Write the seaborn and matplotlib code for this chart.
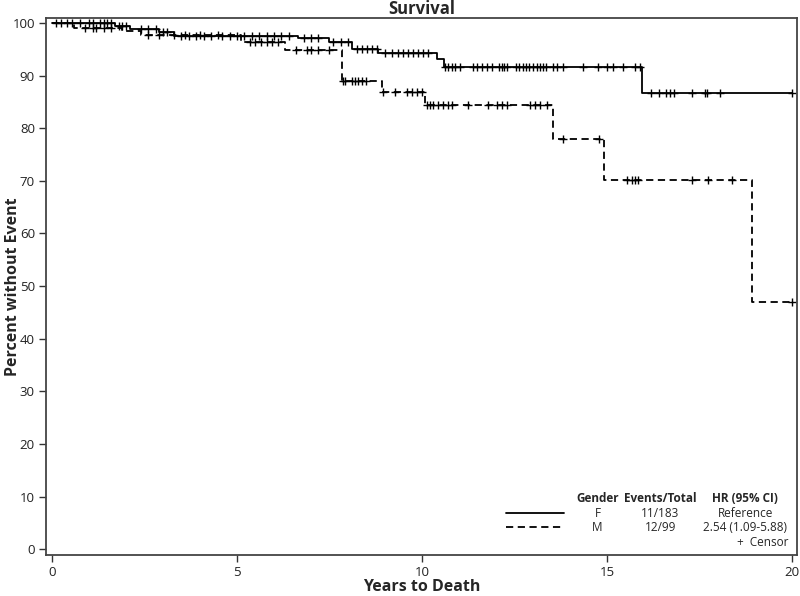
import matplotlib
matplotlib.use("Agg")
import matplotlib.pyplot as plt
import numpy as np
import pandas as pd
import seaborn as sns

# Kaplan-Meier steps (years, percent without event)
f_event_times = [1.7, 2.1, 2.9, 3.3, 6.65, 7.5, 8.1, 8.8, 10.4, 10.6, 15.95]
f_event_surv = [99.4, 98.8, 98.2, 97.6, 97.1, 96.3, 95.0, 94.3, 93.1, 91.6, 86.7]
m_event_times = [0.6, 1.9, 2.4, 5.1, 6.3, 7.84, 8.92, 10.08, 13.54, 14.92, 18.92]
m_event_surv = [99.0, 98.4, 97.7, 96.3, 94.8, 89.0, 86.9, 84.5, 78.0, 70.2, 46.9]

f_censor = [0.1, 0.25, 0.4, 0.55, 0.75, 1.0, 1.1, 1.3, 1.4, 1.5, 1.6,
            1.8, 1.9, 2.0, 2.4, 2.6, 2.8, 3.0, 3.1,
            3.5, 3.7, 3.9, 4.1, 4.3, 4.6, 4.8, 5.0, 5.2, 5.4, 5.6, 5.8,
            6.0, 6.2, 6.4, 6.8, 7.0, 7.2, 7.6, 7.8, 8.0,
            8.24, 8.38, 8.51, 8.65, 8.78, 9.0, 9.19, 9.35, 9.49, 9.62,
            9.76, 9.89, 10.03, 10.16,
            10.62, 10.70, 10.81, 10.89, 11.03, 11.38, 11.49, 11.62, 11.76,
            11.89, 12.08, 12.16, 12.22, 12.30, 12.54, 12.62, 12.73, 12.81,
            12.89, 13.0, 13.11, 13.19, 13.27, 13.35, 13.54, 13.65, 13.81,
            14.35, 14.76, 15.0, 15.16, 15.43, 15.76, 15.9,
            16.2, 16.4, 16.6, 16.7, 16.8, 17.3, 17.65, 17.7, 18.05, 20.0]
m_censor = [0.9, 1.1, 1.2, 1.4, 1.6, 2.6, 2.9, 3.3, 3.6, 4.0, 4.5,
            5.35, 5.5, 5.65, 5.8, 5.95, 6.1,
            6.6, 6.9, 7.0, 7.2, 7.5,
            7.86, 7.92, 8.1, 8.2, 8.27, 8.38, 8.49,
            8.95, 9.27, 9.59, 9.73, 9.86, 10.0,
            10.14, 10.22, 10.3, 10.43, 10.57, 10.70, 10.81, 11.24, 11.78,
            12.03, 12.16, 12.30, 12.92, 13.05, 13.19, 13.38,
            13.81, 14.78,
            15.54, 15.68, 15.76, 15.84, 17.3, 17.73, 18.38, 20.0]

groups = ["F", "M"]
events_total = ["11/183", "12/99"]
hr_text = ["Reference", "2.54 (1.09-5.88)"]


def km_frame(name, times, surv, censor):
    t = [0.0] + list(times) + [max(censor)]
    s = [100.0] + list(surv) + [surv[-1]]
    steps = pd.DataFrame({"time": t, "surv": s, "Gender": name})
    levels = np.array([100.0] + list(surv))
    idx = np.searchsorted(np.array(times), np.array(censor), side="right")
    marks = pd.DataFrame({"time": censor, "surv": levels[idx], "Gender": name})
    return steps, marks


f_steps, f_marks = km_frame("F", f_event_times, f_event_surv, f_censor)
m_steps, m_marks = km_frame("M", m_event_times, m_event_surv, m_censor)
steps = pd.concat([f_steps, m_steps], ignore_index=True)
marks = pd.concat([f_marks, m_marks], ignore_index=True)

sns.set_theme(style="ticks")
plt.rcParams["font.family"] = ["Open Sans", "DejaVu Sans"]

fig = plt.figure(figsize=(8.0, 5.96), dpi=100)
ax = fig.add_axes([0.0575, 0.0688, 0.939, 0.901])

sns.lineplot(data=steps, x="time", y="surv", style="Gender", style_order=groups,
             dashes={"F": "", "M": (4, 2.5)}, color="black", linewidth=1.3,
             drawstyle="steps-post", estimator=None, sort=False, legend=False, ax=ax)
sns.scatterplot(data=marks, x="time", y="surv", marker="+", color="black",
                s=26, linewidth=1.0, legend=False, ax=ax)

ax.set_xlim(-0.16, 20.14)
ax.set_ylim(-1.1, 100.95)
ax.set_xticks([0, 5, 10, 15, 20])
ax.set_yticks(np.arange(0, 101, 10))
ax.tick_params(axis="both", length=5, width=1.0, color="#333333",
               labelsize=9.5, labelcolor="#222222", pad=3)
for sp in ax.spines.values():
    sp.set_color("#444444")
    sp.set_linewidth(1.3)

ax.set_xlabel("Years to Death", fontsize=11.5, fontweight="bold")
ax.set_ylabel("Percent without Event", fontsize=11.5, fontweight="bold")
ax.xaxis.set_label_coords(0.5, -0.044)
ax.yaxis.set_label_coords(-0.033, 0.5)
ax.set_title("Survival", fontsize=12, fontweight="bold", pad=1)

# table-style legend in the lower right
col_x = [0.734, 0.818, 0.931]
head_y = 0.106
row_y = [0.078, 0.052]
tk = dict(transform=ax.transAxes, ha="center", va="center", fontsize=8.5)
for x, h in zip(col_x, ["Gender", "Events/Total", "HR (95% CI)"]):
    ax.text(x, head_y, h, fontweight="bold", **tk)
for y, g, et, hr, ls in zip(row_y, groups, events_total, hr_text, ["-", (0, (4, 2.5))]):
    ax.plot([0.613, 0.689], [y, y], transform=ax.transAxes, color="black",
            linewidth=1.3, linestyle=ls)
    ax.text(col_x[0], y, g, **tk)
    ax.text(col_x[1], y, et, **tk)
    ax.text(col_x[2], y, hr, **tk)
ax.text(0.988, 0.024, "+  Censor", transform=ax.transAxes, ha="right",
        va="center", fontsize=8.5)

fig.savefig("out.png", dpi=100)
